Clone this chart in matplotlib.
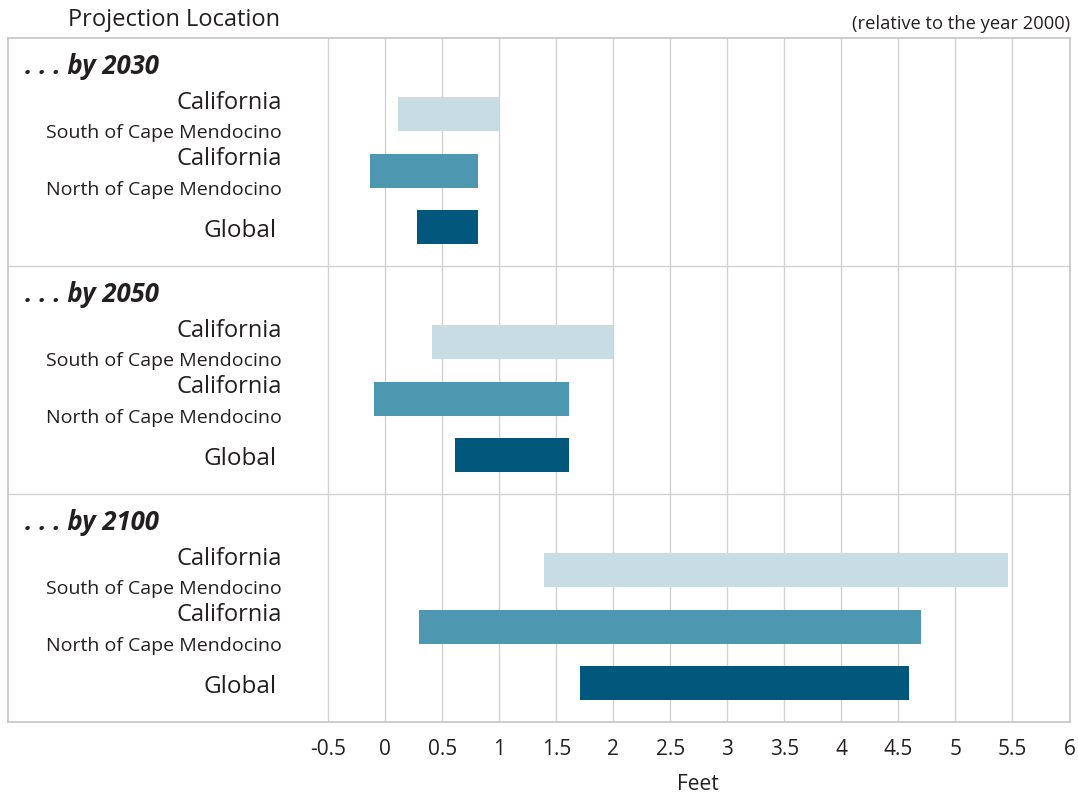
import matplotlib
matplotlib.use("Agg")
import matplotlib.pyplot as plt
import numpy as np

plt.rcParams['font.family'] = ['Open Sans', 'DejaVu Sans']
plt.rcParams['axes.unicode_minus'] = False

# data: sea level rise ranges in feet (relative to 2000)
periods = ['. . . by 2030', '. . . by 2050', '. . . by 2100']
locations = ['South', 'North', 'Global']
low = {
    'South': [0.11, 0.41, 1.39],
    'North': [-0.13, -0.10, 0.30],
    'Global': [0.28, 0.61, 1.71],
}
high = {
    'South': [1.00, 2.00, 5.46],
    'North': [0.81, 1.61, 4.70],
    'Global': [0.81, 1.61, 4.59],
}
tick_vals = [-0.5, 0, 0.5, 1, 1.5, 2, 2.5, 3, 3.5, 4, 4.5, 5, 5.5, 6]
tick_labels = ['-0.5', '0', '0.5', '1', '1.5', '2', '2.5', '3', '3.5', '4',
               '4.5', '5', '5.5', '6']

colors = {'South': '#c8dce4', 'North': '#4d97b0', 'Global': '#02577d'}
txt = '#231f20'
grid_c = '#d2d2d2'

W, H = 1078, 797
fig = plt.figure(figsize=(W / 100, H / 100), dpi=100)
ax = fig.add_axes([8 / W, (H - 722) / H, (1069.5 - 8) / W, (722 - 38) / H])
ax.set_xlim(-3.307, 6)
ax.set_ylim(12, 0)

# gridlines from -0.5 onwards
for v in tick_vals:
    ax.axvline(v, color=grid_c, lw=1.0, zorder=0)
for y in [4, 8]:
    ax.axhline(y, color=grid_c, lw=1.0, zorder=0)

row_off = [1.34, 2.33, 3.32]
for k, per in enumerate(periods):
    top = 4 * k
    ax.text(-3.16, top + 0.64, per, fontsize=18.5, fontweight='bold',
            fontstyle='italic', color=txt, ha='left', va='baseline')
    for j, loc in enumerate(locations):
        yc = top + row_off[j]
        ax.barh(yc, high[loc][k] - low[loc][k], left=low[loc][k], height=0.6,
                color=colors[loc], zorder=2)
        if loc == 'Global':
            ax.text(-0.95, yc + 0.165, 'Global', fontsize=17.5, color=txt,
                    ha='right', va='baseline')
        else:
            ax.text(-0.91, yc - 0.1, 'California', fontsize=17, color=txt,
                    ha='right', va='baseline')
            ax.text(-0.91, yc + 0.42, f'{loc} of Cape Mendocino', fontsize=14,
                    color=txt, ha='right', va='baseline')

ax.set_xticks(tick_vals)
ax.set_xticklabels(tick_labels, fontsize=15, color=txt)
ax.tick_params(axis='x', length=0, pad=12)
ax.set_yticks([])
for s in ax.spines.values():
    s.set_color('#c8c8c8')
    s.set_linewidth(1.3)

fig.text(698 / W, 1 - 790 / H, 'Feet', fontsize=15, color=txt,
         ha='center', va='baseline')
fig.text(68 / W, 1 - 26 / H, 'Projection Location', fontsize=17, color=txt,
         ha='left', va='baseline')
fig.text(1070 / W, 1 - 29 / H, '(relative to the year 2000)', fontsize=13.2,
         color=txt, ha='right', va='baseline')

fig.savefig('out.png', dpi=100)
